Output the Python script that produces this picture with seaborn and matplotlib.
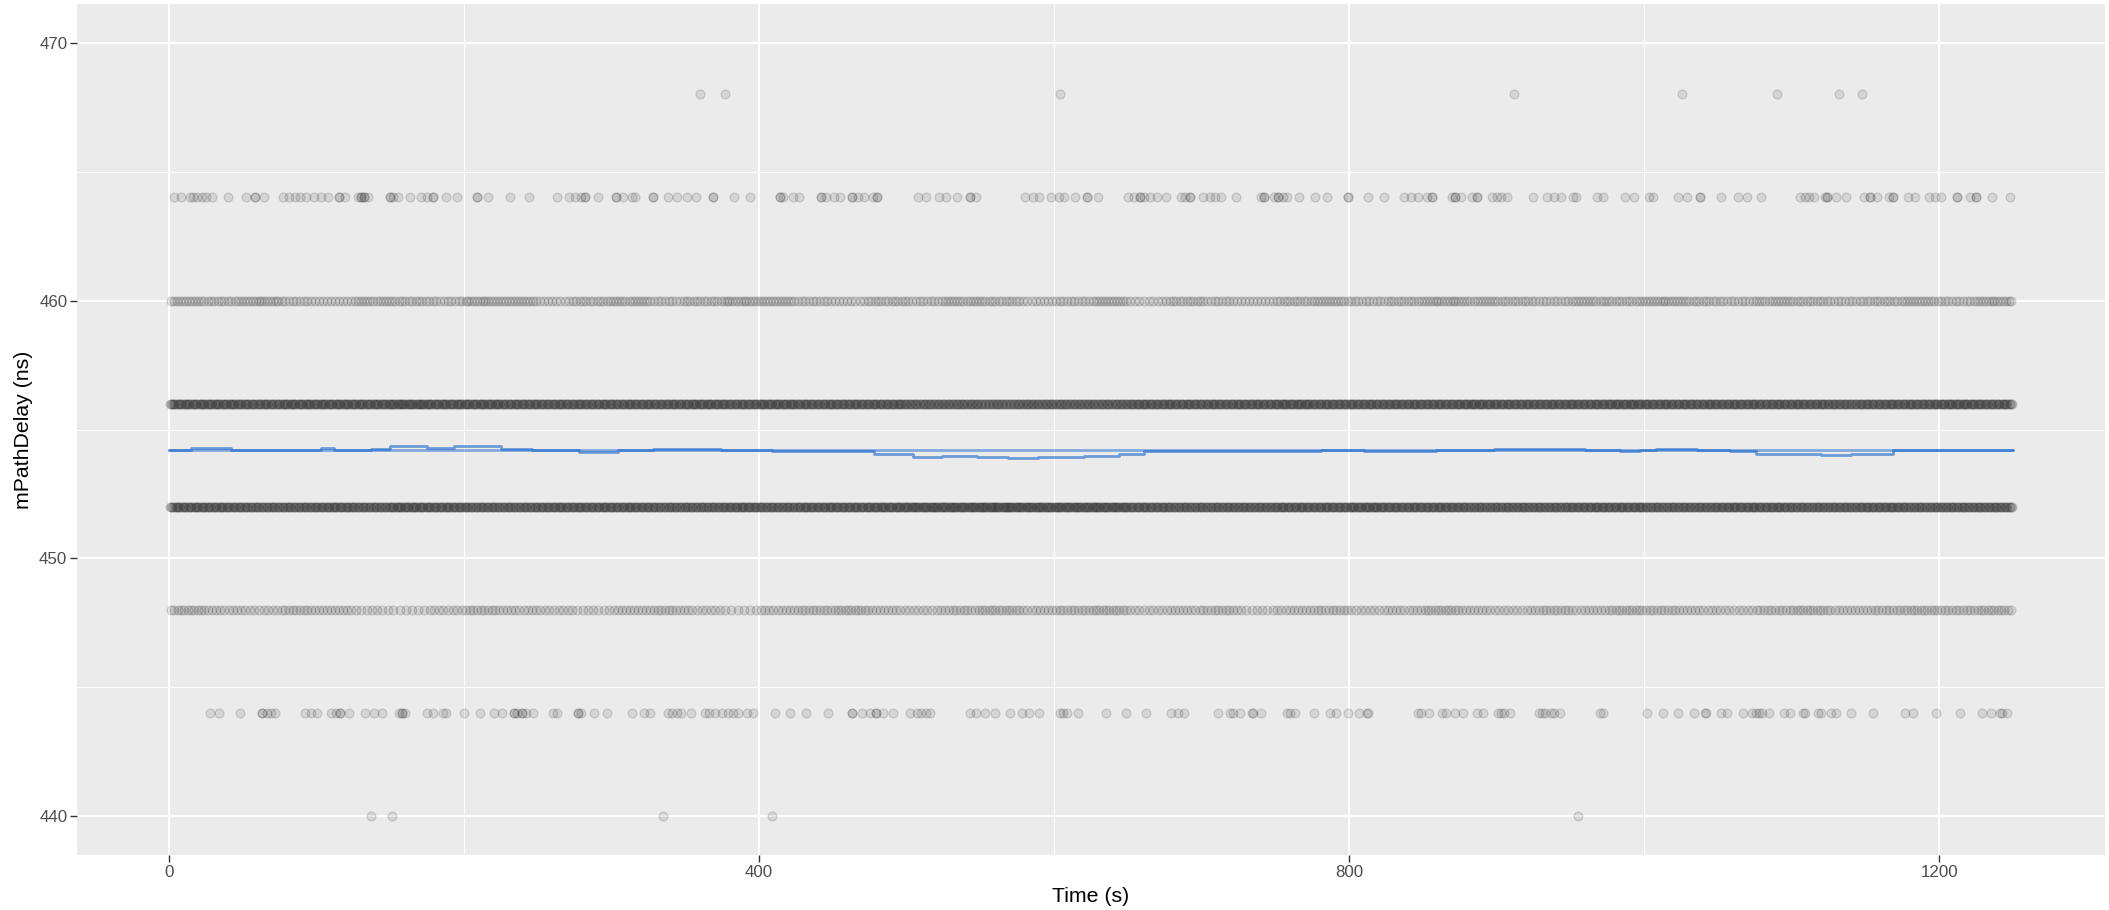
import numpy as np
import pandas as pd
import seaborn as sns
import matplotlib.pyplot as plt
from matplotlib.ticker import FixedLocator

# --- Data (mPathDelay quantised in 4 ns steps) ---
LEVEL_440_T = [137, 151, 335, 409, 955]
LEVEL_468_T = [360, 377, 604, 912, 1026, 1090, 1132, 1148]

# sparse levels: one entry per visible circle (darker circles listed twice)
LEVEL_464_T = [3, 8, 14, 16, 19, 22, 25, 29, 40, 52, 58, 58, 64, 77, 81, 85, 89, 93, 98,
               103, 108, 115, 115, 119, 128, 130, 130, 132, 132, 135, 150, 150, 152, 155,
               163, 171, 175, 179, 179, 188, 195, 209, 209, 216, 231, 244, 263, 271, 275,
               279, 282, 282, 291, 303, 303, 308, 314, 316, 328, 328, 338, 344, 351, 357,
               369, 369, 383, 394, 414, 414, 416, 423, 427, 442, 442, 445, 451, 455, 463,
               463, 467, 471, 477, 480, 480, 508, 513, 522, 527, 534, 543, 543, 547, 580,
               586, 590, 598, 603, 607, 614, 622, 622, 630, 650, 654, 658, 658, 661, 665,
               670, 676, 686, 689, 692, 692, 701, 706, 709, 713, 723, 740, 742, 742, 749,
               752, 752, 755, 758, 766, 777, 785, 799, 799, 813, 824, 837, 842, 847, 853,
               856, 856, 870, 872, 872, 876, 883, 887, 887, 897, 900, 903, 907, 925, 934,
               939, 944, 952, 954, 968, 972, 987, 993, 1003, 1006, 1023, 1029, 1038, 1038,
               1052, 1064, 1070, 1079, 1106, 1109, 1112, 1115, 1123, 1124, 1124, 1130,
               1137, 1149, 1153, 1153, 1158, 1166, 1169, 1169, 1179, 1184, 1193, 1197,
               1201, 1212, 1212, 1221, 1225, 1225, 1236, 1248]
LEVEL_444_T = [28, 34, 48, 63, 63, 66, 69, 72, 92, 96, 100, 110, 113, 116, 116, 122, 133,
               139, 144, 156, 158, 158, 160, 175, 179, 186, 188, 200, 211, 220, 226, 234,
               234, 236, 239, 239, 242, 247, 260, 263, 277, 277, 279, 288, 297, 314, 322,
               326, 338, 341, 344, 347, 354, 363, 366, 370, 375, 379, 382, 386, 392, 396,
               411, 421, 432, 447, 463, 463, 470, 475, 479, 479, 484, 491, 502, 507, 510,
               513, 516, 543, 547, 553, 560, 570, 578, 583, 590, 604, 606, 609, 616, 635,
               649, 662, 679, 684, 688, 711, 719, 721, 726, 734, 735, 740, 758, 760, 763,
               776, 787, 791, 799, 807, 812, 813, 847, 849, 854, 863, 866, 872, 877, 887,
               891, 901, 903, 905, 909, 929, 931, 933, 937, 939, 943, 970, 972, 1002, 1013,
               1023, 1034, 1041, 1042, 1052, 1056, 1067, 1073, 1076, 1078, 1080, 1085,
               1095, 1099, 1108, 1109, 1118, 1120, 1127, 1130, 1140, 1155, 1177, 1182,
               1198, 1214, 1229, 1235, 1241, 1243, 1246]

# dense levels: number of samples per bin (0-25, 25-50, ... 1225-1250 s)
BIN_WIDTH = 25
LEVEL_448_COUNTS = [11, 9, 8, 10, 9, 7, 6, 8, 10, 9, 8, 7, 9, 10, 8, 6, 9, 10, 11, 9,
                    8, 10, 11, 9, 10, 11, 8, 9, 10, 7, 9, 10, 8, 9, 11, 9, 8, 10, 9, 11,
                    10, 9, 8, 10, 11, 9, 10, 11, 10, 11]
LEVEL_452_COUNTS = [31, 31, 30, 30, 31, 30, 32, 31, 30, 30, 31, 31, 31, 30, 30, 31, 30, 31,
                    31, 32, 33, 33, 34, 33, 33, 33, 31, 30, 30, 30, 31, 31, 32, 31, 31, 30,
                    30, 30, 31, 31, 30, 30, 31, 31, 30, 30, 31, 30, 30, 30]
LEVEL_456_COUNTS = [32, 32, 31, 32, 32, 32, 33, 32, 32, 31, 31, 31, 31, 31, 32, 31, 32, 31,
                    31, 31, 29, 29, 28, 29, 29, 29, 31, 31, 31, 31, 32, 31, 31, 31, 31, 32,
                    31, 31, 31, 32, 31, 31, 31, 31, 31, 30, 31, 31, 32, 31]
LEVEL_460_COUNTS = [12, 11, 13, 10, 9, 12, 11, 10, 13, 12, 9, 11, 12, 10, 11, 13, 12, 10,
                    9, 11, 10, 12, 11, 9, 10, 12, 8, 11, 10, 9, 11, 12, 10, 11, 13, 12,
                    11, 10, 12, 11, 13, 11, 10, 12, 11, 10, 11, 12, 10, 13]

# running mean (step breakpoints) and overall mean
RUNMEAN_T = [0, 15, 42, 103, 112, 137, 150, 175, 193, 225, 246, 278, 304, 328, 374, 409,
             428, 478, 504, 524, 548, 569, 589, 620, 644, 661, 700, 740, 781, 810, 859,
             898, 960, 984, 997, 1008, 1036, 1058, 1076, 1120, 1140, 1169, 1250]
RUNMEAN_V = [454.20, 454.28, 454.22, 454.27, 454.20, 454.25, 454.35, 454.28, 454.36, 454.26,
             454.20, 454.12, 454.20, 454.26, 454.20, 454.15, 454.16, 454.06, 453.93, 453.98,
             453.93, 453.90, 453.94, 453.98, 454.07, 454.17, 454.15, 454.17, 454.20, 454.15,
             454.20, 454.25, 454.20, 454.15, 454.20, 454.25, 454.20, 454.15, 454.06, 454.02,
             454.07, 454.20, 454.20]
MEAN_T = [0, 1250]
MEAN_V = [454.2, 454.2]

X_TICKS = [0, 400, 800, 1200]
Y_TICKS = [440, 450, 460, 470]


def expand_counts(counts):
    """Spread each bin's samples evenly over the bin."""
    times = []
    for i, n in enumerate(counts):
        step = BIN_WIDTH / n
        times.extend(i * BIN_WIDTH + step * (np.arange(n) + 0.5))
    return times


frames = []
for level, t in [(440, LEVEL_440_T), (444, LEVEL_444_T), (464, LEVEL_464_T), (468, LEVEL_468_T)]:
    frames.append(pd.DataFrame({"time": t, "delay": level}))
for level, c in [(448, LEVEL_448_COUNTS), (452, LEVEL_452_COUNTS),
                 (456, LEVEL_456_COUNTS), (460, LEVEL_460_COUNTS)]:
    frames.append(pd.DataFrame({"time": expand_counts(c), "delay": level}))
df = pd.concat(frames, ignore_index=True)

# --- ggplot-like theme ---
sns.set_theme(style="darkgrid", rc={
    "axes.facecolor": "#EBEBEB",
    "grid.color": "white",
    "axes.edgecolor": "#EBEBEB",
})
plt.rcParams["font.family"] = ["Liberation Sans", "DejaVu Sans"]

fig = plt.figure(figsize=(21.09, 9.10), dpi=100)
ax = fig.add_axes([0.0365, 0.0604, 0.9616, 0.9352])

sns.scatterplot(data=df, x="time", y="delay", ax=ax, marker="o", s=40,
                color="black", linewidth=1.0, legend=False, zorder=3)
# R-style translucent points: fill and border both semi-transparent
pts = ax.collections[-1]
pts.set_alpha(None)
pts.set_facecolor((0, 0, 0, 0.09))
pts.set_edgecolor((0, 0, 0, 0.13))

sns.lineplot(x=MEAN_T, y=MEAN_V, ax=ax, color="#1a66cc", alpha=0.5, linewidth=2.0, zorder=4)
sns.lineplot(x=RUNMEAN_T, y=RUNMEAN_V, ax=ax, color="#1a66cc", alpha=0.6, linewidth=2.0,
             drawstyle="steps-post", zorder=5)

ax.set_xlim(-62.5, 1312.5)
ax.set_ylim(438.5, 471.5)
ax.xaxis.set_major_locator(FixedLocator(X_TICKS))
ax.yaxis.set_major_locator(FixedLocator(Y_TICKS))
ax.xaxis.set_minor_locator(FixedLocator([200, 600, 1000]))
ax.yaxis.set_minor_locator(FixedLocator([445, 455, 465]))
ax.grid(which="major", color="white", linewidth=1.4)
ax.grid(which="minor", color="white", linewidth=0.7)
for s in ax.spines.values():
    s.set_visible(False)

ax.tick_params(which="major", length=5, width=1, color="#333333", labelsize=12.2,
               labelcolor="#4d4d4d", pad=2, bottom=True, left=True)
ax.tick_params(which="minor", length=0)

ax.set_xlabel("Time (s)", fontsize=15.3, color="black", labelpad=5)
ax.set_ylabel("mPathDelay (ns)", fontsize=15.3, color="black", labelpad=4)

fig.savefig("out.png", dpi=100)
